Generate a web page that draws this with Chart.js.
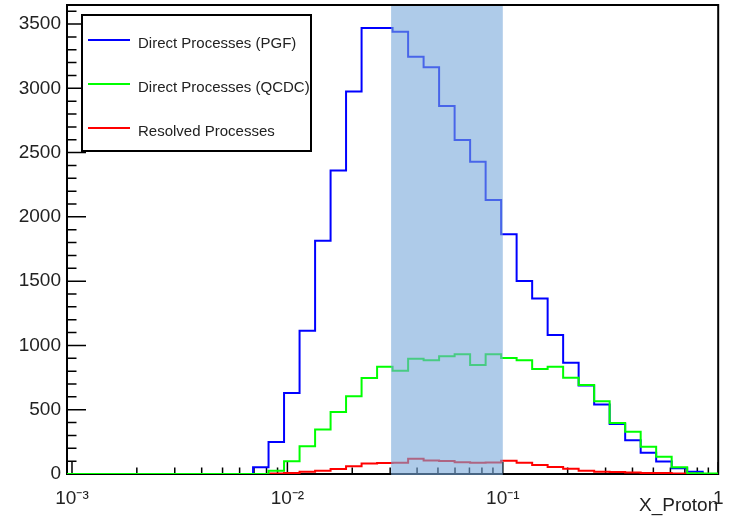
<!DOCTYPE html>
<html><head><meta charset="utf-8">
<script src="https://cdn.jsdelivr.net/npm/chart.js@4.4.1/dist/chart.umd.min.js"></script>
<style>html,body{margin:0;padding:0;background:#fff;}canvas{display:block;}</style>
</head><body>
<canvas id="c" width="729" height="517"></canvas>
<script>
// Histogram bin edges (42 log-spaced bins)
const binEdges = [0.000948, 0.001119, 0.001321, 0.001558, 0.001839, 0.002171, 0.002562, 0.003025, 0.003570, 0.004213,
  0.004973, 0.005869, 0.006928, 0.008175, 0.009649, 0.011389, 0.013446, 0.015867, 0.018721, 0.02210,
  0.026085, 0.030786, 0.036342, 0.042886, 0.050616, 0.059745, 0.07052, 0.083234, 0.09822, 0.11592,
  0.13687, 0.16150, 0.19061, 0.22494, 0.26552, 0.31338, 0.36993, 0.43661, 0.51523, 0.60814,
  0.71779, 0.84723, 1.0];
const seriesNames = ['Direct Processes (PGF)', 'Direct Processes (QCDC)', 'Resolved Processes'];
const seriesColors = ['#0000ff', '#00ff00', '#ff0000'];
const pgf = [0,0,0,0,0,0,0,0,0,0, 0,0,52,248,630,1115,1815,2360,2975,3470,
  3470,3440,3246,3163,2862,2598,2429,2131,1864,1501, 1366,1081,866,688,540,388,262,165,98,45, 18,0];
const qcdc = [0,0,0,0,0,0,0,0,0,0, 0,0,0,26,100,215,347,483,604,747,
  835,803,897,884,916,932,848,932,903,884, 817,835,749,692,566,396,329,212,135,53, 5,3];
const resolved = [0,0,0,0,0,0,0,0,0,0, 0,0,0,3,8,18,25,38,60,82,
  86,88,118,105,102,92,88,90,104,88, 70,55,40,25,18,15,12,8,7,4, 2,0];
const bandRange = [0.0303, 0.1];
const xTickValues = [0.001, 0.01, 0.1, 1];
const xTickLabels = ['10\u207B\u00B3', '10\u207B\u00B2', '10\u207B\u00B9', '1'];
const yTickValues = [0, 500, 1000, 1500, 2000, 2500, 3000, 3500];
const yMax = 3648;
const yMinorStep = 100;
const xTitle = 'X_Proton';

const FONT = '"Liberation Sans", Arial, Helvetica, sans-serif';
const TXT = '#222';

function histPoints(vals) {
  const pts = vals.map((v, i) => ({x: binEdges[i], y: v}));
  pts.push({x: binEdges[vals.length], y: vals[vals.length - 1]});
  return pts;
}

const rootPlugin = {
  id: 'rootStyle',
  beforeDatasetsDraw(chart) {
    const {ctx, chartArea: a, scales: {x, y}} = chart;
    ctx.save();
    ctx.strokeStyle = '#000';
    ctx.lineWidth = 1.5;
    ctx.beginPath();
    for (let v = 0; v <= yMax; v += yMinorStep) {
      const py = y.getPixelForValue(v);
      const len = (v % 500 === 0) ? 19 : 9.5;
      ctx.moveTo(a.left, py); ctx.lineTo(a.left + len, py);
    }
    for (let d = -4; d <= 0; d++) {
      for (let m = 1; m <= 9; m++) {
        const v = m * Math.pow(10, d);
        if (v < x.min * 0.9999 || v > x.max * 1.0001) continue;
        const px = x.getPixelForValue(v);
        const len = m === 1 ? 12 : 6.5;
        ctx.moveTo(px, a.bottom); ctx.lineTo(px, a.bottom - len);
      }
    }
    ctx.stroke();
    ctx.lineWidth = 2;
    ctx.strokeRect(a.left, a.top, a.right - a.left, a.bottom - a.top);
    ctx.restore();
  },
  afterDatasetsDraw(chart) {
    const {ctx, chartArea: a, scales: {x}} = chart;
    const x1 = x.getPixelForValue(bandRange[0]);
    const x2 = x.getPixelForValue(bandRange[1]);
    ctx.save();
    ctx.fillStyle = 'rgba(120,168,218,0.6)';
    ctx.fillRect(x1, a.top + 1, x2 - x1, a.bottom - a.top);
    ctx.restore();
  },
  afterDraw(chart) {
    const {ctx} = chart;
    ctx.save();
    const box = {x: 82, y: 15, w: 229, h: 136};
    ctx.fillStyle = '#fff';
    ctx.fillRect(box.x, box.y, box.w, box.h);
    ctx.strokeStyle = '#000';
    ctx.lineWidth = 2;
    ctx.strokeRect(box.x, box.y, box.w, box.h);
    const rows = [40, 84, 128];
    ctx.font = '15px ' + FONT;
    ctx.textBaseline = 'middle';
    ctx.textAlign = 'left';
    seriesNames.forEach((name, i) => {
      ctx.strokeStyle = seriesColors[i];
      ctx.lineWidth = 2;
      ctx.beginPath();
      ctx.moveTo(88, rows[i]); ctx.lineTo(130, rows[i]);
      ctx.stroke();
      ctx.fillStyle = TXT;
      ctx.fillText(name, 138, rows[i] + 3.5);
    });
    ctx.restore();
  }
};

const ds = (label, vals, color, order) => ({
  label, data: histPoints(vals), borderColor: color, backgroundColor: color,
  borderWidth: 2, pointRadius: 0, stepped: 'before', fill: false, order
});

new Chart(document.getElementById('c'), {
  type: 'line',
  data: {
    datasets: [
      ds(seriesNames[0], pgf, seriesColors[0], 2),
      ds(seriesNames[1], qcdc, seriesColors[1], 0),
      ds(seriesNames[2], resolved, seriesColors[2], 1)
    ]
  },
  options: {
    responsive: false,
    animation: false,
    devicePixelRatio: 1,
    layout: {padding: {left: 0, right: 10.8, top: 5, bottom: 0}},
    plugins: {legend: {display: false}, tooltip: {enabled: false}},
    scales: {
      x: {
        type: 'logarithmic',
        position: 'bottom',
        min: binEdges[0],
        max: binEdges[binEdges.length - 1],
        afterBuildTicks: s => { s.ticks = xTickValues.map(v => ({value: v})); },
        afterFit: s => { s.height = 43; s.paddingLeft = 0; s.paddingRight = 0; },
        grid: {display: false, drawTicks: false},
        border: {display: false},
        ticks: {
          autoSkip: false, maxRotation: 0, minRotation: 0, padding: 13,
          color: TXT, font: {family: FONT, size: 19},
          callback: (v) => { const i = xTickValues.indexOf(v); return i >= 0 ? xTickLabels[i] : ''; }
        },
        title: {display: true, text: xTitle, align: 'end', color: TXT,
          font: {family: FONT, size: 19}, padding: {top: 0, bottom: 0}}
      },
      y: {
        type: 'linear',
        min: 0,
        max: yMax,
        afterBuildTicks: s => { s.ticks = yTickValues.map(v => ({value: v})); },
        afterFit: s => { s.width = 67; s.paddingTop = 0; s.paddingBottom = 0; },
        grid: {display: false, drawTicks: false},
        border: {display: false},
        ticks: {padding: 6, color: TXT, font: {family: FONT, size: 19}, callback: v => String(v)}
      }
    }
  },
  plugins: [rootPlugin]
});
</script>
</body></html>
